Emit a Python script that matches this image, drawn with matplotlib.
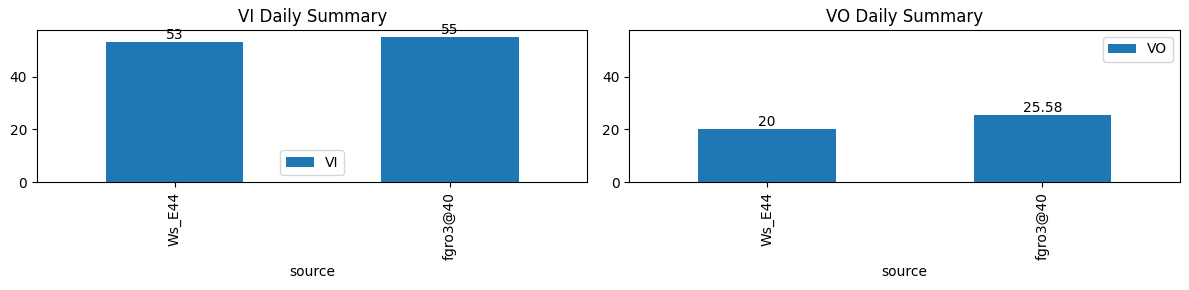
import pandas as pd
import matplotlib.pyplot as plt

sources = ["Ws_E44", "fgro3@40"]
vi_values = [53, 55]
vo_values = [20, 25.58]

df = pd.DataFrame({"source": sources, "VI": vi_values, "VO": vo_values}).set_index("source")

fig, axes = plt.subplots(1, 2, figsize=(11.89, 2.9), dpi=100)

df[["VI"]].plot(kind="bar", ax=axes[0], title="VI Daily Summary")
axes[0].bar_label(axes[0].containers[0])
axes[0].legend(loc="lower center")

df[["VO"]].plot(kind="bar", ax=axes[1], title="VO Daily Summary")
axes[1].bar_label(axes[1].containers[0])
axes[1].set_ylim(axes[0].get_ylim())
axes[1].legend(loc="upper right")

# match the reference's plot area
plt.subplots_adjust(left=0.0311, right=0.9924, top=0.8966, bottom=0.3724, wspace=0.0763)
plt.savefig("out.png", dpi=100)
